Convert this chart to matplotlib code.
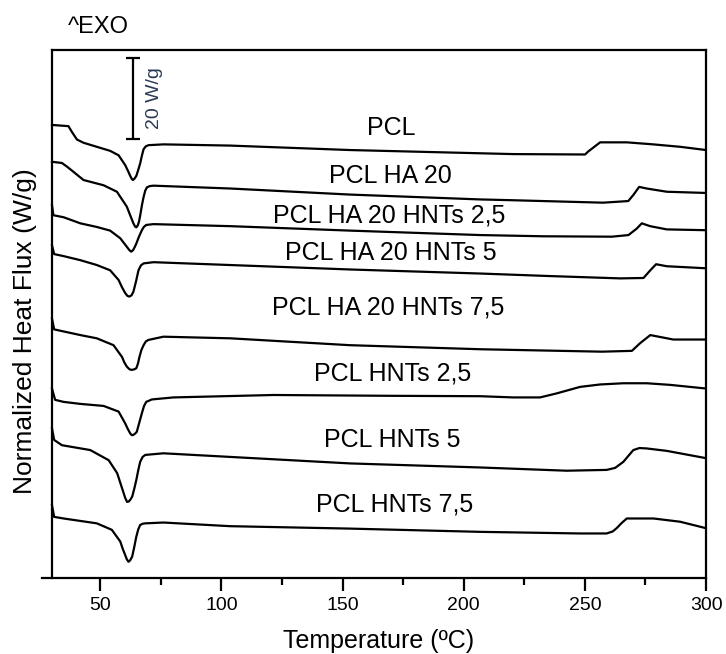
#!/usr/bin/env python3
"""
DSC curves (heat flux vs temperature) for PCL composites, stacked with offsets
"""
import matplotlib
matplotlib.use("Agg")
import matplotlib.pyplot as plt

plt.rcParams['font.family'] = ['Liberation Sans', 'DejaVu Sans']

# Curves are already shifted vertically (W/g)
t_pcl = [30.1, 36.9, 38.3, 40.4, 43.1, 48.6, 54.1, 57.6, 60.3, 61.5, 62.4, 63.0, 63.5, 64.1, 64.9,
         65.7, 66.5, 67.2, 67.9, 68.8, 69.9, 76.1, 103.6, 153.1, 206.8, 220.4, 250.1, 251.3,
         256.3, 267.3, 278.2, 289.3, 300]
hf_pcl = [111.9, 111.6, 110.2, 108.3, 107.5, 106.5, 105.5, 104.4, 102.0, 100.5, 99.3, 98.6, 98.3, 98.6, 99.3,
          100.8, 102.4, 104.3, 105.9, 106.6, 106.9, 107.1, 106.8, 105.7, 104.9, 104.7, 104.6, 105.3,
          107.6, 107.6, 107.1, 106.5, 105.7]

t_ha20 = [30.1, 34.2, 36.3, 39.0, 43.1, 51.4, 56.9, 61.0, 62.5, 63.7, 64.4, 64.9, 65.5, 66.0, 66.5,
          67.2, 67.9, 68.6, 69.3, 70.5, 72.0, 103.6, 153.1, 206.8, 220.4, 257.5, 267.9, 270.0,
          272.4, 275.5, 283.8, 300]
hf_ha20 = [102.8, 102.5, 101.6, 100.3, 98.3, 97.0, 95.4, 91.7, 89.4, 87.6, 86.8, 86.6, 87.1, 88.0, 89.5,
           92.0, 94.1, 95.7, 96.5, 96.8, 96.9, 96.2, 94.7, 93.5, 93.3, 92.7, 93.1, 94.6,
           96.6, 96.2, 95.4, 95.1]

t_ha20_h25 = [30.1, 30.7, 34.9, 41.8, 48.6, 54.1, 58.3, 59.7, 61.0, 62.0, 62.8, 63.6, 64.3, 64.9,
              66.0, 67.2, 68.0, 69.0, 72.0, 103.6, 153.1, 206.8, 232.8, 261.1, 268.0, 271.4,
              273.5, 276.9, 283.8, 300]
hf_ha20_h25 = [92.1, 89.6, 89.1, 87.6, 86.7, 85.8, 83.9, 82.8, 81.8, 81.0, 80.6, 81.0, 81.8, 82.6,
               84.3, 85.9, 86.7, 87.2, 87.4, 86.9, 85.8, 84.7, 84.4, 84.3, 84.7, 86.3,
               87.6, 86.9, 86.1, 85.9]

t_ha20_h5 = [30.1, 31.0, 34.9, 41.8, 48.6, 54.1, 57.6, 59.0, 60.3, 61.2, 62.0, 62.9, 63.7, 64.8,
             65.8, 66.8, 67.9, 72.0, 103.6, 153.1, 206.8, 234.3, 264.6, 274.2, 277.0, 279.4,
             283.8, 300]
hf_ha20_h5 = [82.2, 80.0, 79.5, 78.5, 77.3, 76.0, 73.6, 71.8, 70.4, 69.7, 69.5, 69.8, 70.7, 73.3,
              76.0, 77.2, 77.7, 78.0, 77.3, 76.2, 75.2, 74.6, 74.0, 74.1, 76.0, 77.5,
              77.0, 76.5]

t_ha20_h75 = [30.1, 31.0, 41.8, 48.6, 55.5, 59.0, 60.0, 61.0, 62.0, 62.8, 63.9, 64.9, 65.6, 66.2,
              67.0, 67.9, 68.8, 69.9, 76.1, 103.6, 153.1, 206.8, 257.0, 269.4, 272.8, 277.0,
              286.5, 300]
hf_ha20_h75 = [64.1, 61.4, 60.0, 59.2, 57.5, 54.6, 53.2, 52.2, 51.6, 51.4, 51.5, 51.8, 53.0, 54.6,
               56.3, 57.5, 58.4, 58.8, 59.6, 59.2, 57.5, 56.5, 55.9, 56.1, 58.0, 60.0,
               58.9, 58.9]

t_h25 = [30.1, 31.4, 34.9, 41.8, 51.4, 57.6, 60.3, 61.4, 62.4, 63.0, 63.5, 64.3, 65.1, 66.1,
         67.2, 68.1, 69.0, 71.3, 80.2, 121.5, 169.6, 206.8, 220.5, 231.5, 238.4, 248.0,
         256.3, 265.9, 275.5, 285.2, 300]
hf_h25 = [46.8, 44.0, 43.5, 43.0, 42.5, 41.1, 38.2, 36.8, 35.7, 35.3, 35.3, 35.6, 36.1, 38.3,
          40.7, 42.5, 43.5, 44.1, 44.6, 45.2, 45.0, 44.9, 44.6, 44.6, 45.6, 47.2,
          47.8, 48.1, 48.1, 47.7, 46.8]

t_h5 = [30.1, 31.0, 34.2, 45.9, 53.5, 57.0, 58.3, 59.5, 60.3, 61.1, 61.8, 62.5, 63.2, 64.0,
        64.9, 65.7, 66.5, 67.5, 68.6, 76.1, 153.1, 206.8, 242.5, 259.0, 262.5, 265.9,
        268.0, 270.0, 272.5, 275.5, 283.8, 300]
hf_h5 = [37.0, 34.1, 32.8, 31.6, 29.1, 25.9, 23.5, 21.3, 19.8, 18.8, 18.9, 19.4, 20.1, 21.9,
         24.2, 26.6, 28.7, 29.9, 30.4, 30.8, 28.3, 27.3, 26.5, 26.7, 27.2, 28.7,
         30.2, 31.6, 32.1, 32.0, 31.4, 29.6]

t_h75 = [30.1, 31.0, 34.9, 48.6, 54.8, 58.3, 59.3, 60.3, 61.0, 61.7, 62.4, 63.2, 64.0, 64.9,
         65.7, 66.5, 67.5, 68.6, 76.1, 103.6, 153.1, 206.8, 248.0, 259.0, 261.5, 263.1,
         265.2, 267.3, 278.3, 289.3, 300]
hf_h75 = [18.0, 15.1, 14.7, 13.5, 11.9, 9.0, 7.2, 5.7, 4.6, 4.0, 4.4, 5.3, 7.5, 10.2,
          12.0, 13.1, 13.4, 13.5, 13.7, 12.8, 12.2, 11.4, 11.0, 11.0, 11.5, 12.3,
          13.6, 14.7, 14.7, 13.9, 12.3]

labels = ['PCL', 'PCL HA 20', 'PCL HA 20 HNTs 2,5', 'PCL HA 20 HNTs 5', 'PCL HA 20 HNTs 7,5',
          'PCL HNTs 2,5', 'PCL HNTs 5', 'PCL HNTs 7,5']
# label anchor (temperature, baseline in W/g)
label_t = [170.1, 169.6, 169.2, 170.1, 168.8, 170.7, 170.5, 171.3]
label_y = [109.4, 97.5, 87.9, 78.5, 65.2, 48.9, 32.3, 16.5]

scale_bar = 20  # W/g

curves = [(t_pcl, hf_pcl), (t_ha20, hf_ha20), (t_ha20_h25, hf_ha20_h25), (t_ha20_h5, hf_ha20_h5),
          (t_ha20_h75, hf_ha20_h75), (t_h25, hf_h25), (t_h5, hf_h5), (t_h75, hf_h75)]

fig = plt.figure(figsize=(7.26, 6.54), dpi=100)
ax = fig.add_axes([0.0579, 0.1162, 0.9146, 0.8073])

for (t, hf) in curves:
    ax.plot(t, hf, color='black', lw=1.6, solid_joinstyle='round')

for lab, x, y in zip(labels, label_t, label_y):
    ax.text(x, y, lab, ha='center', va='baseline', fontsize=18, color='black')

# 20 W/g scale bar
ax.errorbar([63.5], [108.4 + scale_bar / 2], yerr=scale_bar / 2, color='black',
            elinewidth=1.6, capsize=5, capthick=1.6)
ax.text(72.3, 118.6, f'{scale_bar} W/g', rotation=90, ha='center', va='center',
        fontsize=14, color='#2b3a55')

ax.set_xlim(26, 300)
ax.set_ylim(0, 130.4)

# Origin-style frame: y axis sits at 30 C, bottom axis runs a bit past it
ax.spines['left'].set_position(('data', 30))
ax.spines['top'].set_bounds(30, 300)
for s in ax.spines.values():
    s.set_linewidth(1.6)

ax.set_xticks([50, 100, 150, 200, 250, 300])
ax.set_xticks([75, 125, 175, 225, 275], minor=True)
ax.tick_params(axis='x', which='major', direction='out', length=9, width=1.6,
               labelsize=14, pad=5)
ax.tick_params(axis='x', which='minor', direction='out', length=5, width=1.6)
ax.set_yticks([])

fig.text(378.5 / 726, 1 - 648 / 654, 'Temperature (ºC)', ha='center', va='baseline', fontsize=18)
fig.text(25 / 726, 1 - 331.5 / 654, 'Normalized Heat Flux (W/g)', rotation=90,
         ha='center', va='center', fontsize=19)
fig.text(68 / 726, 1 - 33 / 654, '^EXO', ha='left', va='baseline', fontsize=17)

fig.savefig('out.png', dpi=100)
